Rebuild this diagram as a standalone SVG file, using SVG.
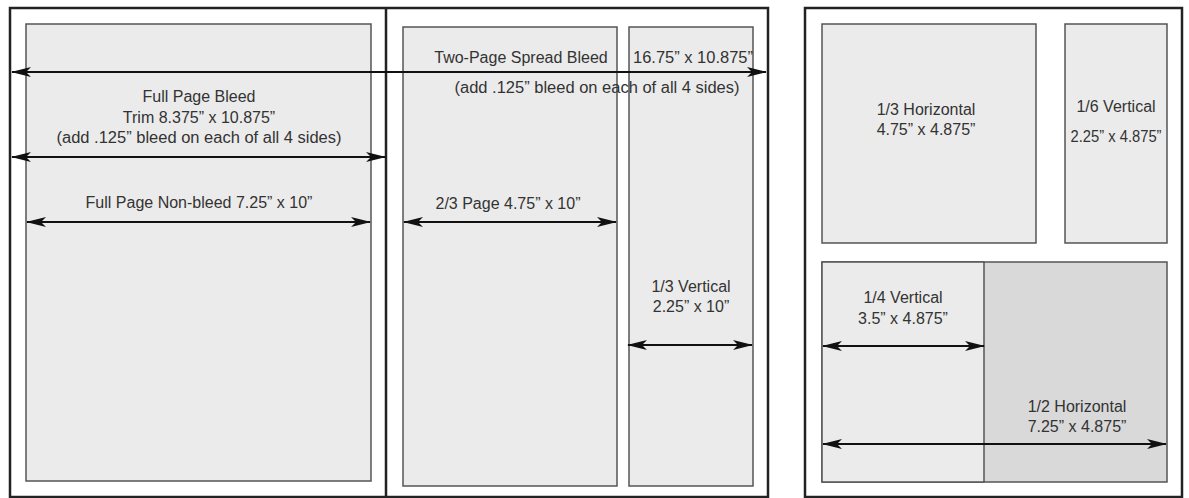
<svg xmlns="http://www.w3.org/2000/svg" width="1189" height="498" viewBox="0 0 1189 498">
<style>
.frame{fill:#fff;stroke:#222;stroke-width:2.5}
.ad{fill:#ebebeb;stroke:#555;stroke-width:1.5}
.ad2{fill:#d9d9d9;stroke:#555;stroke-width:1.5}
.t{font-family:"Liberation Sans",Arial,sans-serif;font-size:16px;fill:#333;text-anchor:middle}
.arr{stroke:#111;stroke-width:2.2;fill:none;marker-start:url(#ah);marker-end:url(#ah)}
</style>
<defs>
<marker id="ah" markerUnits="userSpaceOnUse" markerWidth="20" markerHeight="12" refX="19" refY="6" orient="auto-start-reverse">
<path d="M0,1 L20,6 L0,11 L5,6 z" fill="#111"/>
</marker>
</defs>
<g id="spread">
<rect class="frame" x="10" y="8" width="758" height="489"/>
<line x1="386" y1="8" x2="386" y2="497" stroke="#222" stroke-width="2.5"/>
</g>
<g id="full-page">
<rect class="ad" x="26" y="24" width="345" height="457"/>
<text class="t" x="199" y="102">Full Page Bleed</text>
<text class="t" x="199" y="123">Trim 8.375” x 10.875”</text>
<text class="t" x="199" y="143" textLength="285" lengthAdjust="spacingAndGlyphs">(add .125” bleed on each of all 4 sides)</text>
<text class="t" x="199" y="208">Full Page Non-bleed 7.25” x 10”</text>
</g>
<g id="two-thirds">
<rect class="ad" x="403" y="27" width="214" height="459"/>
<text class="t" x="508" y="209">2/3 Page 4.75” x 10”</text>
</g>
<g id="third-vertical">
<rect class="ad" x="629" y="27" width="124" height="459"/>
<text class="t" x="691" y="292">1/3 Vertical</text>
<text class="t" x="691" y="312">2.25” x 10”</text>
</g>
<g id="spread-label">
<text class="t" x="521" y="63">Two-Page Spread Bleed</text>
<text class="t" x="693" y="63" textLength="120" lengthAdjust="spacingAndGlyphs">16.75” x 10.875”</text>
<text class="t" x="597" y="93" textLength="285" lengthAdjust="spacingAndGlyphs">(add .125” bleed on each of all 4 sides)</text>
</g>
<g id="page2">
<rect class="frame" x="805" y="8" width="377" height="489"/>
</g>
<g id="third-horizontal">
<rect class="ad" x="822" y="24" width="214" height="219"/>
<text class="t" x="926" y="115">1/3 Horizontal</text>
<text class="t" x="926" y="135">4.75” x 4.875”</text>
</g>
<g id="sixth-vertical">
<rect class="ad" x="1065" y="24" width="102" height="219"/>
<text class="t" x="1116" y="112">1/6 Vertical</text>
<text class="t" x="1116" y="142" textLength="91" lengthAdjust="spacingAndGlyphs">2.25” x 4.875”</text>
</g>
<g id="half-horizontal">
<rect class="ad2" x="822" y="262" width="345" height="220"/>
<text class="t" x="1077" y="412">1/2 Horizontal</text>
<text class="t" x="1077" y="432">7.25” x 4.875”</text>
</g>
<g id="quarter-vertical">
<rect class="ad" x="822" y="262" width="162" height="220"/>
<text class="t" x="903" y="303">1/4 Vertical</text>
<text class="t" x="903" y="324">3.5” x 4.875”</text>
</g>
<g id="connectors">
<line class="arr" x1="12" y1="72" x2="766" y2="72"/>
<line class="arr" x1="12" y1="157" x2="385" y2="157"/>
<line class="arr" x1="27" y1="222" x2="370" y2="222"/>
<line class="arr" x1="404" y1="222" x2="616" y2="222"/>
<line class="arr" x1="628" y1="345" x2="752" y2="345"/>
<line class="arr" x1="823" y1="346" x2="984" y2="346"/>
<line class="arr" x1="823" y1="444" x2="1166" y2="444"/>
</g>
</svg>
